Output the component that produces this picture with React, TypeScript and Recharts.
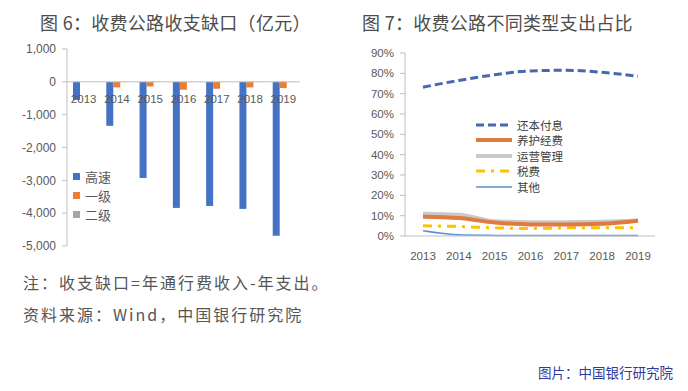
import { Bar, BarChart, Legend, Line, LineChart, ReferenceLine, XAxis, YAxis } from "recharts";

const years = ["2013", "2014", "2015", "2016", "2017", "2018", "2019"];

// 图6 收支缺口（亿元）
const highway = [-550, -1340, -2930, -3840, -3780, -3870, -4690];
const firstClass = [0, -170, -140, -240, -210, -170, -190];
const secondClass = [0, -8, -6, -8, -6, -6, -6];
const gapTicks = [-5000, -4000, -3000, -2000, -1000, 0, 1000];
const gapOrder = ["高速", "一级", "二级"];

// 图7 支出占比（%）
const debtService = [73.2, 76.5, 79.3, 81.2, 81.5, 80.5, 78.5];
const maintenance = [9.5, 8.8, 6.6, 5.7, 5.7, 6.0, 7.5];
const operation = [11.0, 10.5, 7.3, 6.8, 6.8, 7.0, 7.6];
const taxes = [5.0, 4.7, 4.0, 3.7, 4.0, 4.0, 4.0];
const others = [2.6, 0.6, 0.3, 0.2, 0.2, 0.2, 0.2];
const shareTicks = [0, 10, 20, 30, 40, 50, 60, 70, 80, 90];
const shareOrder = ["还本付息", "养护经费", "运营管理", "税费", "其他"];

const gapData = years.map((year, i) => ({
	year,
	highway: highway[i],
	firstClass: firstClass[i],
	secondClass: secondClass[i],
}));

const shareData = years.map((year, i) => ({
	year,
	debt: debtService[i],
	maintenance: maintenance[i],
	operation: operation[i],
	taxes: taxes[i],
	others: others[i],
}));

const cjk = '"Noto Sans CJK SC", "Noto Sans", sans-serif';
const num = '"Liberation Sans", Arial, sans-serif';
const axisGrey = "#bfbfbf";
const textGrey = "#595959";

const titleStyle: React.CSSProperties = {
	position: "absolute",
	top: 9,
	fontFamily: cjk,
	fontSize: 18,
	color: "#4d4d4d",
	whiteSpace: "nowrap",
	letterSpacing: 0.3,
};

const noteStyle: React.CSSProperties = {
	position: "absolute",
	left: 23,
	fontFamily: cjk,
	fontSize: 16,
	letterSpacing: 2,
	color: "#555",
	whiteSpace: "nowrap",
};

const byOrder = (order: string[]) => (a: any, b: any) => order.indexOf(a.value) - order.indexOf(b.value);

function GapTick({ x, y, payload }: any) {
	// category labels sit just under the zero line, like Excel's "next to axis"
	return (
		<text x={x} y={y - 143} textAnchor="middle" fontSize={11.5} fontFamily={num} fill={textGrey}>
			{payload.value}
		</text>
	);
}

function GapLegend({ payload }: any) {
	const items = [...payload].sort(byOrder(gapOrder));
	return (
		<div style={{ fontFamily: cjk, fontSize: 13, color: textGrey }}>
			{items.map((p: any) => (
				<div key={p.value} style={{ display: "flex", alignItems: "center", height: 19 }}>
					<span style={{ width: 7, height: 7, background: p.color, marginRight: 5 }} />
					{p.value}
				</div>
			))}
		</div>
	);
}

function ShareLegend({ payload }: any) {
	const items = [...payload].sort(byOrder(shareOrder));
	return (
		<div style={{ fontFamily: cjk, fontSize: 11.5, color: "#404040" }}>
			{items.map((p: any) => (
				<div key={p.value} style={{ display: "flex", alignItems: "center", height: 15.5 }}>
					<svg width={36} height={8} style={{ marginRight: 5 }}>
						<line
							x1={0}
							y1={4}
							x2={36}
							y2={4}
							stroke={p.color}
							strokeWidth={p.payload.strokeWidth}
							strokeDasharray={p.payload.strokeDasharray}
						/>
					</svg>
					{p.value}
				</div>
			))}
		</div>
	);
}

export default function App() {
	return (
		<div style={{ position: "absolute", left: 0, top: 0, width: 688, height: 391, background: "#fff", overflow: "hidden" }}>
			<div style={{ ...titleStyle, left: 40 }}>图 6：收费公路收支缺口（亿元）</div>
			<div style={{ ...titleStyle, left: 362 }}>图 7：收费公路不同类型支出占比</div>

			<div style={{ position: "absolute", left: 0, top: 0 }}>
				<BarChart width={344} height={260} data={gapData} margin={{ top: 49, right: 44, left: 0, bottom: 0 }} barGap={0}>
					<XAxis dataKey="year" height={14} axisLine={false} tickLine={false} tickSize={0} tickMargin={0} tick={<GapTick />} interval={0} />
					<YAxis
						width={67}
						domain={[-5000, 1000]}
						ticks={gapTicks}
						tickFormatter={(v: number) => v.toLocaleString("en-US")}
						axisLine={{ stroke: axisGrey }}
						tickLine={{ stroke: axisGrey }}
						tickSize={5}
						tickMargin={6}
						tick={{ fontSize: 12, fontFamily: num, fill: textGrey }}
					/>
					<ReferenceLine y={0} stroke={axisGrey} />
					<Bar dataKey="highway" name="高速" fill="#4472c4" barSize={7} isAnimationActive={false} />
					<Bar dataKey="firstClass" name="一级" fill="#ed7d31" barSize={7} isAnimationActive={false} />
					<Bar dataKey="secondClass" name="二级" fill="#a5a5a5" barSize={7} isAnimationActive={false} />
					<Legend
						layout="vertical"
						align="center"
						verticalAlign="middle"
						content={<GapLegend />}
						wrapperStyle={{ left: 73, top: 167, width: "auto" }}
					/>
				</BarChart>
			</div>

			<div style={{ position: "absolute", left: 340, top: 0 }}>
				<LineChart width={348} height={270} data={shareData} margin={{ top: 53, right: 33, left: 0, bottom: 4 }}>
					<XAxis
						dataKey="year"
						height={30}
						padding={{ left: 18, right: 17 }}
						axisLine={{ stroke: axisGrey }}
						tickLine={false}
						tickMargin={10}
						interval={0}
						tick={{ fontSize: 11.5, fontFamily: num, fill: textGrey }}
					/>
					<YAxis
						width={65}
						domain={[0, 90]}
						ticks={shareTicks}
						tickFormatter={(v: number) => `${v}%`}
						axisLine={{ stroke: axisGrey }}
						tickLine={{ stroke: axisGrey }}
						tickSize={5}
						tickMargin={6}
						tick={{ fontSize: 11.5, fontFamily: num, fill: textGrey }}
					/>
					<Line type="monotone" dataKey="others" name="其他" stroke="#5b8fd0" strokeWidth={1.5} dot={false} isAnimationActive={false} />
					<Line type="monotone" dataKey="taxes" name="税费" stroke="#ffc000" strokeWidth={3} strokeDasharray="9 6 3 6" dot={false} isAnimationActive={false} />
					<Line type="monotone" dataKey="operation" name="运营管理" stroke="#c9c9c9" strokeWidth={4} dot={false} isAnimationActive={false} />
					<Line type="monotone" dataKey="maintenance" name="养护经费" stroke="#e2793f" strokeWidth={4} dot={false} isAnimationActive={false} />
					<Line type="monotone" dataKey="debt" name="还本付息" stroke="#4568ae" strokeWidth={3} strokeDasharray="8 4" dot={false} isAnimationActive={false} />
					<Legend
						layout="vertical"
						align="center"
						verticalAlign="middle"
						content={<ShareLegend />}
						wrapperStyle={{ left: 136, top: 117, width: "auto" }}
					/>
				</LineChart>
			</div>

			<div style={{ ...noteStyle, top: 270 }}>注：收支缺口=年通行费收入-年支出。</div>
			<div style={{ ...noteStyle, top: 302 }}>资料来源：Wind，中国银行研究院</div>
			<div style={{ position: "absolute", left: 538, top: 362, fontFamily: cjk, fontSize: 13.5, color: "#2f3a9e" }}>
				图片：中国银行研究院
			</div>
		</div>
	);
}
